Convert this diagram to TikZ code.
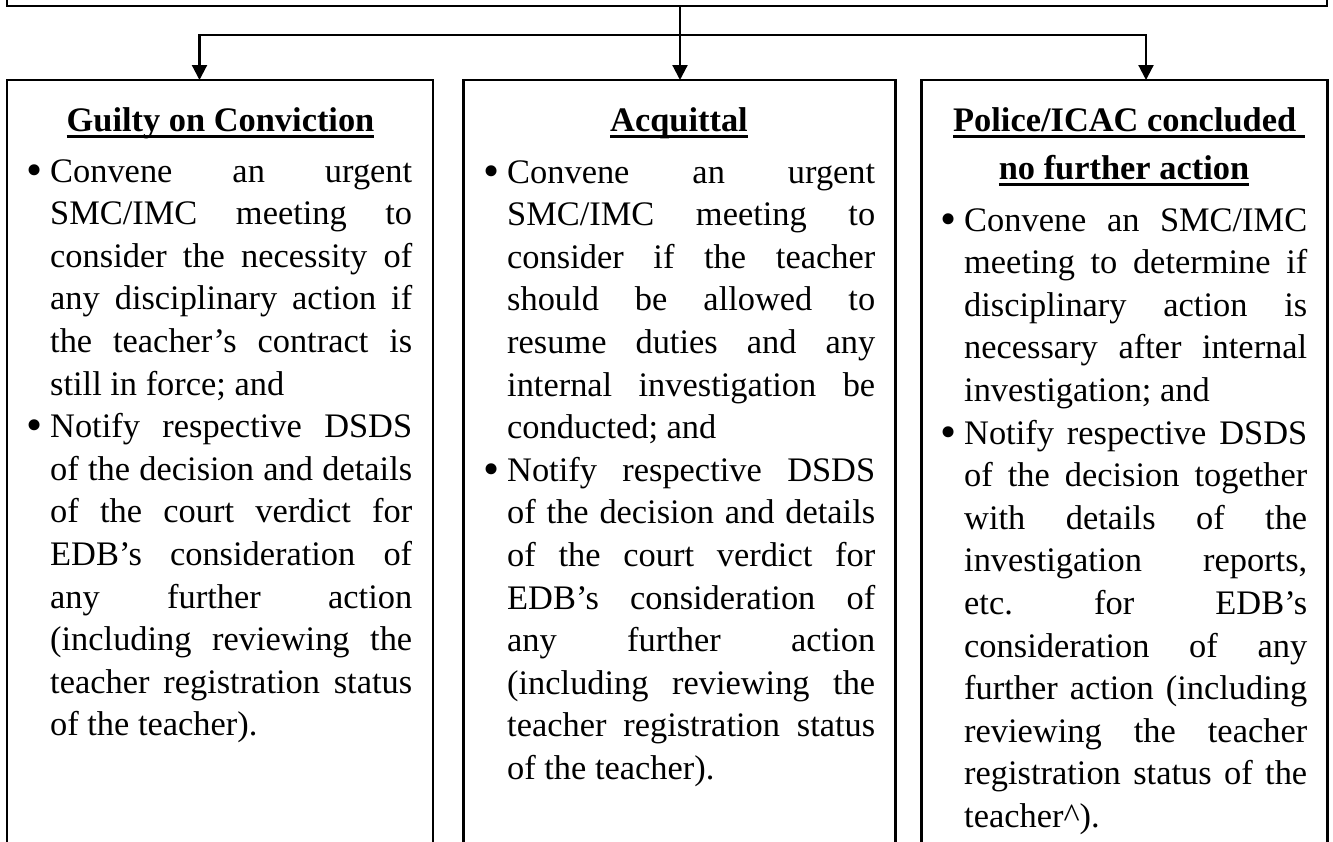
\documentclass[tikz,border=0pt]{standalone}
\usepackage{fontspec}
\setmainfont{Liberation Serif}
\usetikzlibrary{arrows.meta}
\newlength\lw
\newcommand{\bl}{\makebox[21pt][l]{\hspace*{-2.5pt}\raisebox{-3pt}{\fontsize{46pt}{46pt}\selectfont\textbullet}}}
\newcommand{\ind}{\hspace*{21pt}}
\newcommand{\jline}[1]{\makebox[\lw][s]{#1}}
\newcommand{\lline}[1]{\makebox[\lw][l]{#1}}
\newcommand{\ulx}[1]{\setbox0\hbox{#1}\rlap{\rule[-7pt]{\wd0}{3.4pt}}\box0}
\frenchspacing
\begin{document}
\begin{tikzpicture}[x=1pt,y=-1pt,
  box/.style={draw, line width=2.2pt, inner sep=0pt, outer sep=0pt, rectangle},
  txt/.style={inner sep=0pt, font=\fontsize{34.4pt}{42.6pt}\selectfont},
  ttl/.style={inner sep=0pt, font=\fontsize{34.4pt}{42.6pt}\selectfont\bfseries},
  conn/.style={line width=2.2pt},
  arr/.style={line width=2.2pt, -{Triangle[length=15pt,width=15pt]}}]
\useasboundingbox (0,0) rectangle (1333,841);
% boxes
\node[box, anchor=south west, minimum width=1320pt, minimum height=300pt] (top) at (7,6) {};
\node[box, anchor=north west, minimum width=426pt, minimum height=800pt] (left) at (7,80) {};
\node[box, anchor=north west, minimum width=432pt, minimum height=800pt] (mid) at (463.5,80) {};
\node[box, anchor=north west, minimum width=406pt, minimum height=800pt] (right) at (921.5,80) {};
% connectors
\coordinate (hub) at (680,35);
\coordinate (jl) at (199.5,35);
\coordinate (jr) at (1146,35);
\draw[arr] (top.south -| hub) -- (hub |- mid.north);
\draw[conn, line cap=rect] (jl) -- (jr);
\draw[arr] (jl) -- (jl |- left.north);
\draw[arr] (jr) -- (jr |- right.north);
% titles
\node[ttl, anchor=base] (ltitle) at (220.5,131) {\ulx{Guilty on Conviction}};
\node[ttl, anchor=base] (mtitle) at (679,131) {\ulx{Acquittal}};
\node[ttl, anchor=base] (rtitle1) at (1129,131) {\ulx{Police/ICAC concluded\ }};
\node[ttl, anchor=base] (rtitle2) at (1124,179) {\ulx{no further action}};
% left text
\node[txt, anchor=base west] (ltext) at (29,182) {\parbox[t]{383pt}{\setlength{\lw}{362pt}%
\bl\jline{Convene an urgent}\\
\ind\jline{SMC/IMC meeting to}\\
\ind\jline{consider the necessity of}\\
\ind\jline{any disciplinary action if}\\
\ind\jline{the teacher’s contract is}\\
\ind\lline{still in force; and}\\
\bl\jline{Notify respective DSDS}\\
\ind\jline{of the decision and details}\\
\ind\jline{of the court verdict for}\\
\ind\jline{EDB’s consideration of}\\
\ind\jline{any further action}\\
\ind\jline{(including reviewing the}\\
\ind\jline{teacher registration status}\\
\ind\lline{of the teacher).}}};
% middle text
\node[txt, anchor=base west] (mtext) at (486,183) {\parbox[t]{389pt}{\setlength{\lw}{368pt}%
\bl\jline{Convene an urgent}\\
\ind\jline{SMC/IMC meeting to}\\
\ind\jline{consider if the teacher}\\
\ind\jline{should be allowed to}\\
\ind\jline{resume duties and any}\\
\ind\jline{internal investigation be}\\
\ind\lline{conducted; and}\\
\bl\jline{Notify respective DSDS}\\
\ind\jline{of the decision and details}\\
\ind\jline{of the court verdict for}\\
\ind\jline{EDB’s consideration of}\\
\ind\jline{any further action}\\
\ind\jline{(including reviewing the}\\
\ind\jline{teacher registration status}\\
\ind\lline{of the teacher).}}};
% right text
\node[txt, anchor=base west] (rtext) at (943,231) {\parbox[t]{364pt}{\setlength{\lw}{343pt}%
\bl\jline{Convene an SMC/IMC}\\
\ind\jline{meeting to determine if}\\
\ind\jline{disciplinary action is}\\
\ind\jline{necessary after internal}\\
\ind\lline{investigation; and}\\
\bl\jline{Notify respective DSDS}\\
\ind\jline{of the decision together}\\
\ind\jline{with details of the}\\
\ind\jline{investigation reports,}\\
\ind\jline{etc. for EDB’s}\\
\ind\jline{consideration of any}\\
\ind\jline{further action (including}\\
\ind\jline{reviewing the teacher}\\
\ind\jline{registration status of the}\\
\ind\lline{teacher\textasciicircum).}}};
\end{tikzpicture}
\end{document}
